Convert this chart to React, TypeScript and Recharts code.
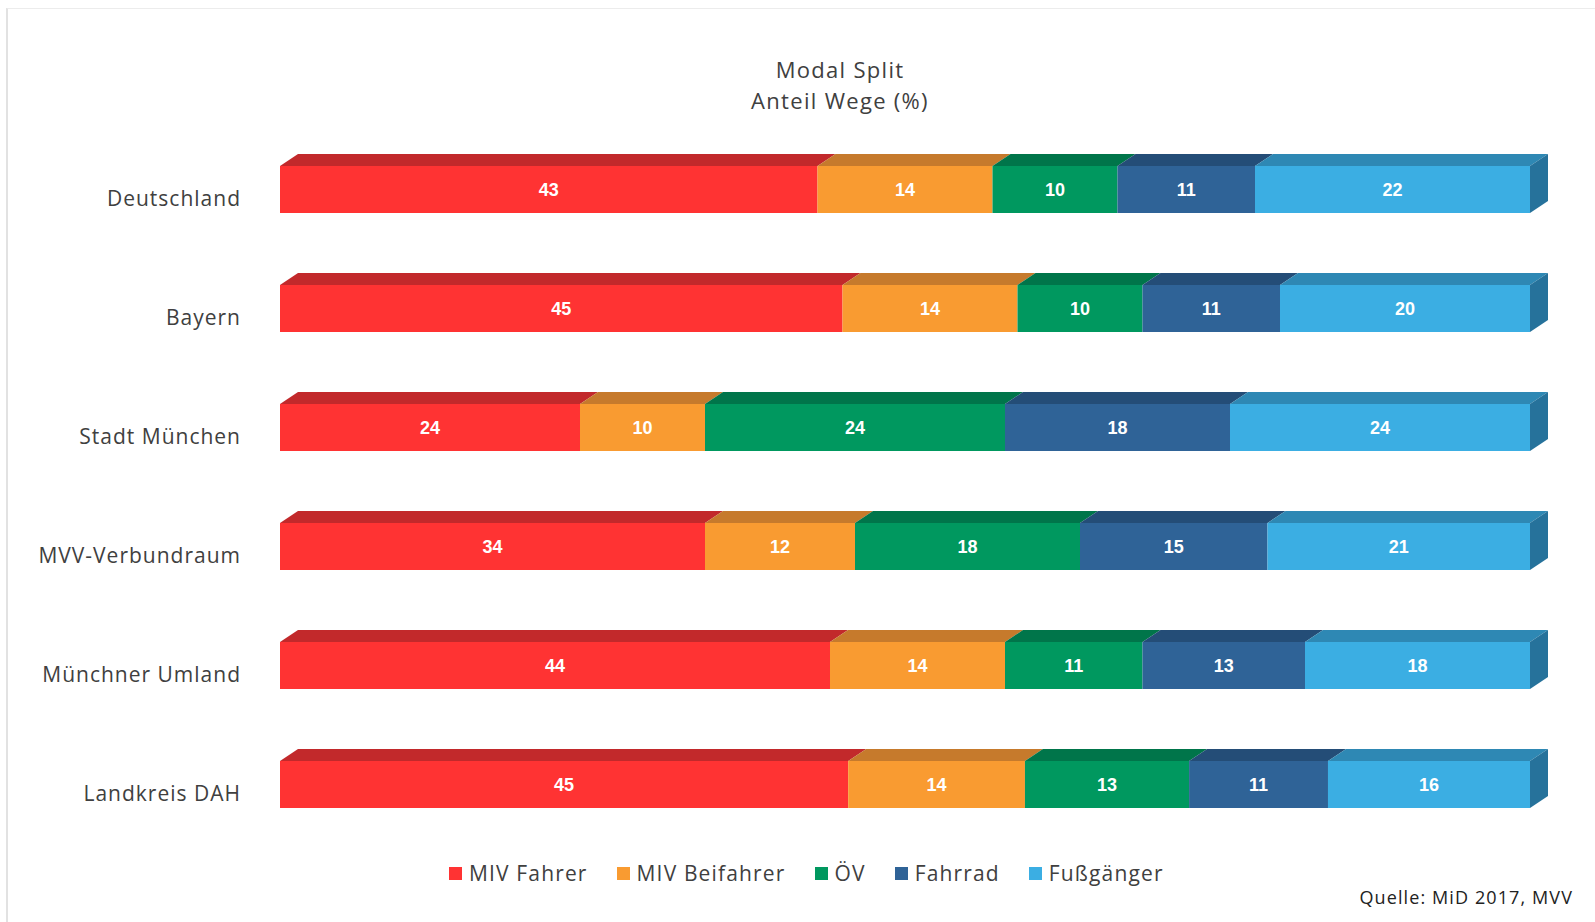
import React from 'react'
import { Bar, BarChart, LabelList, XAxis, YAxis } from 'recharts'

const regions = ['Deutschland', 'Bayern', 'Stadt München', 'MVV-Verbundraum', 'Münchner Umland', 'Landkreis DAH']
const mivFahrer = [43, 45, 24, 34, 44, 45]
const mivBeifahrer = [14, 14, 10, 12, 14, 14]
const oev = [10, 10, 24, 18, 11, 13]
const fahrrad = [11, 11, 18, 15, 13, 11]
const fussgaenger = [22, 20, 24, 21, 18, 16]

const series = [
  { key: 'mivFahrer', name: 'MIV Fahrer', front: '#FF3333', top: '#C2292B', side: '#A82224' },
  { key: 'mivBeifahrer', name: 'MIV Beifahrer', front: '#F99B31', top: '#C67A2C', side: '#A86624' },
  { key: 'oev', name: 'ÖV', front: '#00985F', top: '#00754A', side: '#00603C' },
  { key: 'fahrrad', name: 'Fahrrad', front: '#2F6397', top: '#244D77', side: '#1E4064' },
  { key: 'fussgaenger', name: 'Fußgänger', front: '#3BAEE3', top: '#2E88B4', side: '#26729B' },
]

const data = regions.map((name, i) => ({
  name,
  mivFahrer: mivFahrer[i],
  mivBeifahrer: mivBeifahrer[i],
  oev: oev[i],
  fahrrad: fahrrad[i],
  fussgaenger: fussgaenger[i],
}))

const DX = 18
const DY = 12
const textColor = '#404040'
const font = '"Open Sans", sans-serif'

function Bar3D(props: any) {
  const { x, y, width, height, front, top, side, withSide } = props
  if (!width || width <= 0) return null
  return (
    <g>
      <polygon
        points={`${x},${y} ${x + DX},${y - DY} ${x + width + DX},${y - DY} ${x + width},${y}`}
        fill={top}
      />
      <rect x={x} y={y} width={width} height={height} fill={front} />
      {withSide && (
        <polygon
          points={`${x + width},${y} ${x + width + DX},${y - DY} ${x + width + DX},${y + height - DY} ${x + width},${y + height}`}
          fill={side}
        />
      )}
    </g>
  )
}

function RegionTick(props: any) {
  const { x, y, payload } = props
  return (
    <text
      x={x + 1}
      y={y + 9}
      dy="0.355em"
      textAnchor="end"
      fill={textColor}
      fontSize={21}
      fontFamily={font}
      style={{ letterSpacing: '1px' }}
    >
      {payload.value}
    </text>
  )
}

export default function App() {
  return (
    <div
      style={{
        position: 'absolute',
        left: 0,
        top: 0,
        width: 1595,
        height: 922,
        background: '#fff',
        fontFamily: font,
        overflow: 'hidden',
      }}
    >
      <div
        style={{
          position: 'absolute',
          left: 6,
          top: 8,
          right: 0,
          bottom: 0,
          borderLeft: '2px solid #e2e2e2',
          borderTop: '1px solid #ececec',
        }}
      />
      <div
        style={{
          position: 'absolute',
          left: 640,
          width: 400,
          top: 54,
          textAlign: 'center',
          fontSize: 22,
          letterSpacing: '1.3px',
          lineHeight: '31px',
          color: textColor,
        }}
      >
        <div>Modal Split</div>
        <div>Anteil Wege (%)</div>
      </div>
      <div style={{ position: 'absolute', left: 0, top: 0 }}>
        <BarChart
          width={1595}
          height={922}
          data={data}
          layout="vertical"
          stackOffset="expand"
          margin={{ top: 130, right: 65, bottom: 78, left: 0 }}
          barSize={47}
        >
          <XAxis type="number" domain={[0, 1]} hide />
          <YAxis
            type="category"
            dataKey="name"
            width={280}
            axisLine={false}
            tickLine={false}
            tickMargin={34}
            tick={<RegionTick />}
          />
          {series.map((s, idx) => (
            <Bar
              key={s.key}
              dataKey={s.key}
              name={s.name}
              stackId="a"
              fill={s.front}
              isAnimationActive={false}
              shape={(p: any) => (
                <Bar3D {...p} front={s.front} top={s.top} side={s.side} withSide={idx === series.length - 1} />
              )}
            >
              <LabelList
                dataKey={s.key}
                position="center"
                fill="#fff"
                style={{ fontSize: 18, fontWeight: 700, fontFamily: '"Liberation Sans", Arial, sans-serif' }}
              />
            </Bar>
          ))}
        </BarChart>
      </div>
      <div
        style={{
          position: 'absolute',
          left: 449,
          top: 860,
          display: 'flex',
          gap: 29,
          fontSize: 21,
          letterSpacing: '1.15px',
          color: textColor,
          lineHeight: '26px',
        }}
      >
        {series.map((s) => (
          <div key={s.key} style={{ display: 'flex', alignItems: 'center', gap: 7 }}>
            <div style={{ width: 13, height: 13, background: s.front }} />
            <span>{s.name}</span>
          </div>
        ))}
      </div>
      <div
        style={{
          position: 'absolute',
          right: 22,
          top: 885,
          fontSize: 18,
          letterSpacing: '1.1px',
          color: '#222',
        }}
      >
        Quelle: MiD 2017, MVV
      </div>
    </div>
  )
}
